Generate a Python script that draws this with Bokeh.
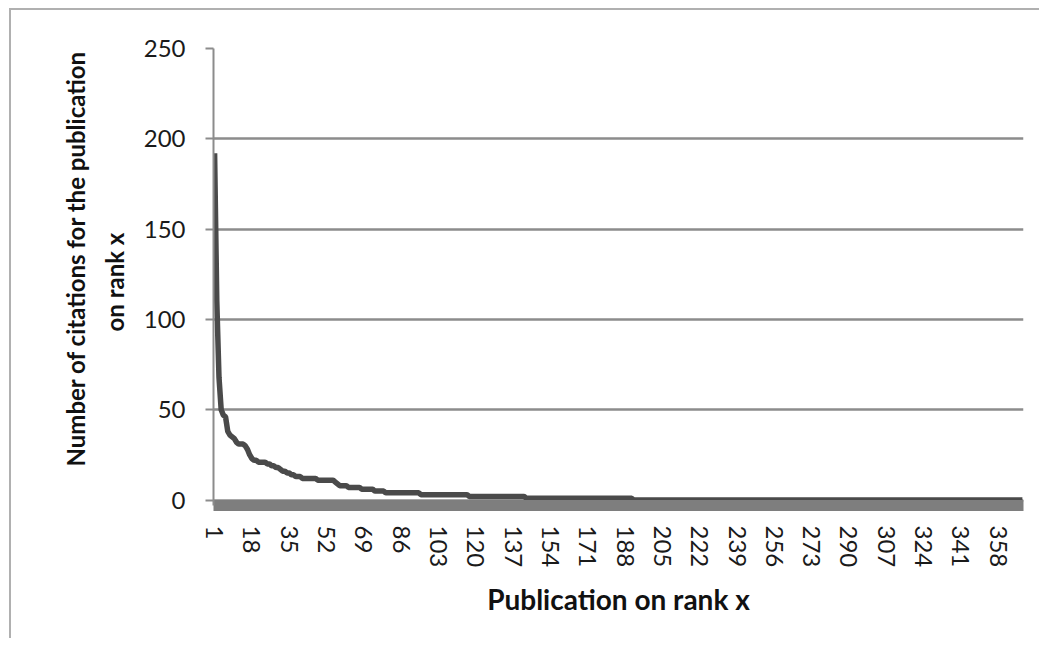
from bokeh.plotting import figure
from bokeh.models import Range1d, FixedTicker, Title
from bokeh.embed import file_html
from bokeh.resources import INLINE

# ---- data ----
# citations of the top-ranked publications (rank 1..41)
head_citations = [192, 110, 68, 50, 47, 46, 38, 36, 35, 34,
                  32, 31, 31, 31, 30, 28, 25, 23, 22, 22,
                  21, 21, 21, 21, 20, 20, 19, 19, 18, 18,
                  17, 16, 16, 15, 15, 14, 14, 13, 13, 13, 12]
# remaining ranks as runs: citation value and how many publications have it
tail_values = [12, 11, 10, 9, 8, 7, 6, 5, 4, 3, 2, 1, 0]
tail_counts = [6, 8, 1, 1, 4, 6, 6, 5, 16, 22, 26, 49, 178]

x_tick_labels = ["1", "18", "35", "52", "69", "86", "103", "120", "137", "154",
                 "171", "188", "205", "222", "239", "256", "273", "290", "307",
                 "324", "341", "358"]
y_ticks = [0, 50, 100, 150, 200, 250]
y_title_lines = ["Number of citations for the publication", "on rank x"]
x_title = "Publication on rank x"

citations = list(head_citations)
for v, c in zip(tail_values, tail_counts):
    citations.extend([v] * c)
ranks = list(range(1, len(citations) + 1))
n = len(citations)

FONT = "Lato"
GRID = "#8c8c8c"

p = figure(width=1030, height=630, output_backend="svg", toolbar_location=None,
           x_range=Range1d(0.5, n + 0.5), y_range=Range1d(-3.0, 250),
           min_border_left=202, min_border_top=38, min_border_right=18,
           min_border_bottom=135)
p.styles = {"margin-left": "9px", "margin-top": "8px",
            "border-top": "2px solid #b0b0b0", "border-left": "2px solid #b0b0b0"}
p.outline_line_color = None
p.background_fill_color = "white"
p.border_fill_color = "white"

p.line(ranks, citations, line_color="#4a4a4a", line_width=5.5)

# x axis
xa = p.xaxis[0]
xa.ticker = FixedTicker(ticks=[int(t) for t in x_tick_labels])
xa.major_label_orientation = "vertical"
xa.major_label_text_font = FONT
xa.major_label_text_font_size = "24px"
xa.major_label_text_color = "#1a1a1a"
xa.major_label_standoff = 14
xa.major_tick_line_color = None
xa.minor_tick_line_color = None
xa.axis_line_color = "#7e7e7e"
xa.axis_line_width = 11
xa.axis_label = x_title
xa.axis_label_text_font = FONT
xa.axis_label_text_font_style = "bold"
xa.axis_label_text_font_size = "28px"
xa.axis_label_text_color = "#111111"
xa.axis_label_standoff = 12

# y axis
ya = p.yaxis[0]
ya.ticker = FixedTicker(ticks=y_ticks)
ya.major_label_text_font = FONT
ya.major_label_text_font_size = "24px"
ya.major_label_text_color = "#1a1a1a"
ya.major_label_standoff = 20
ya.major_tick_out = 8
ya.major_tick_in = 0
ya.major_tick_line_color = GRID
ya.major_tick_line_width = 2
ya.minor_tick_line_color = None
ya.axis_line_color = GRID
ya.axis_line_width = 2

# y-axis title: two side titles (the one nearest the axis is added first)
for line, off, stand in [(y_title_lines[1], 174, 24), (y_title_lines[0], 39, -8)]:
    p.add_layout(Title(text=line, align="left", offset=off, standoff=stand,
                       text_font=FONT, text_font_style="bold", text_font_size="24px",
                       text_color="#111111"), "left")

p.xgrid.grid_line_color = None
p.ygrid.grid_line_color = GRID
p.ygrid.grid_line_width = 2.5

open("out.html", "w").write(file_html(p, INLINE))
